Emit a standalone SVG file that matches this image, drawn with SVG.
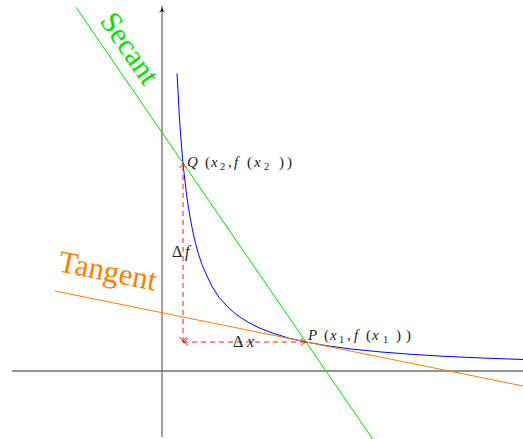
<svg xmlns="http://www.w3.org/2000/svg" width="523" height="439" viewBox="0 0 523 439">
<style>
.axis{stroke:#6e6e6e;stroke-width:1.3;fill:none}
.dash{stroke:#ff0000;stroke-width:0.9;stroke-dasharray:5,4;fill:none}
.lbl{fill:#222}
text{font-family:'Liberation Serif','DejaVu Serif','Times New Roman',serif}
.it{font-style:italic}
.sub{font-size:10.5px}
</style>
<defs>
<marker id="ax" markerWidth="10" markerHeight="10" refX="8" refY="5" orient="auto" markerUnits="userSpaceOnUse">
<path d="M1,1.5 Q4,5 8,5 Q4,5 1,8.5 L3,5 Z" fill="#000"/>
</marker>
<marker id="rt" markerWidth="10" markerHeight="10" refX="7" refY="5" orient="auto-start-reverse" markerUnits="userSpaceOnUse">
<path d="M2,1.5 Q4.5,4.2 7,5 Q4.5,5.8 2,8.5" fill="none" stroke="#ff0000" stroke-width="0.9"/>
</marker>
</defs>
<g id="connectors">
<line id="x-axis" class="axis" x1="12" y1="371" x2="523" y2="371"/>
<line id="y-axis" class="axis" x1="162" y1="437" x2="162" y2="6" marker-end="url(#ax)"/>
<polyline id="curve" fill="none" stroke="#0000ff" stroke-width="1" points="177,73.4 178,91 179,110.8 180,126 181,139.8 182,152 183,163 184,172.5 186,190.2 188,204.8 190,217.1 192,227.5 195,241.2 198,252.6 202,264.5 207,276 212,286.3 219,297.3 227,306.2 236,314.3 247,321.6 259,327.8 272,332.9 288,337.9 306,342 328,345.9 352,349.1 380,351.9 412,354.35 442,356.2 472,357.58 498,358.6 523,359.48"/>
<line id="tangent" stroke="#ff8000" stroke-width="1" x1="55" y1="291" x2="523" y2="386"/>
<line id="secant" stroke="#00e000" stroke-width="1" x1="76" y1="7.3" x2="373" y2="439.5"/>
<line id="df-arrow" class="dash" x1="183" y1="342" x2="183" y2="163" marker-start="url(#rt)" marker-end="url(#rt)"/>
<line id="dx-arrow" class="dash" x1="183" y1="342" x2="306" y2="342" marker-start="url(#rt)" marker-end="url(#rt)"/>
</g>
<g id="Q"><text class="lbl" y="167" font-size="15"><tspan class="it" x="187">Q</tspan><tspan x="205">(</tspan><tspan class="it" x="211">x</tspan><tspan class="sub" x="220" y="170">2</tspan><tspan x="228" y="167">,</tspan><tspan class="it" x="234">f</tspan><tspan x="247">(</tspan><tspan class="it" x="254">x</tspan><tspan class="sub" x="264" y="170">2</tspan><tspan x="279" y="167">)</tspan><tspan x="287">)</tspan></text></g>
<g id="P"><text class="lbl" y="340" font-size="15"><tspan class="it" x="308">P</tspan><tspan x="324">(</tspan><tspan class="it" x="330">x</tspan><tspan class="sub" x="339" y="343">1</tspan><tspan x="347" y="340">,</tspan><tspan class="it" x="354">f</tspan><tspan x="366">(</tspan><tspan class="it" x="372">x</tspan><tspan class="sub" x="383" y="343">1</tspan><tspan x="396" y="340">)</tspan><tspan x="406">)</tspan></text></g>
<g id="df"><text class="lbl" y="257" font-size="16"><tspan x="172">Δ</tspan><tspan class="it" x="185">f</tspan></text></g>
<g id="dx"><text class="lbl" y="347" font-size="16"><tspan x="233">Δ</tspan><tspan class="it" x="247">x</tspan></text></g>
<g id="tangent-label"><text font-size="31" fill="#ff8000" transform="translate(57,271) rotate(11.5)">Tangent</text></g>
<g id="secant-label"><text font-size="30" fill="#00e000" transform="translate(99,21) rotate(55.5)">Secant</text></g>
</svg>
